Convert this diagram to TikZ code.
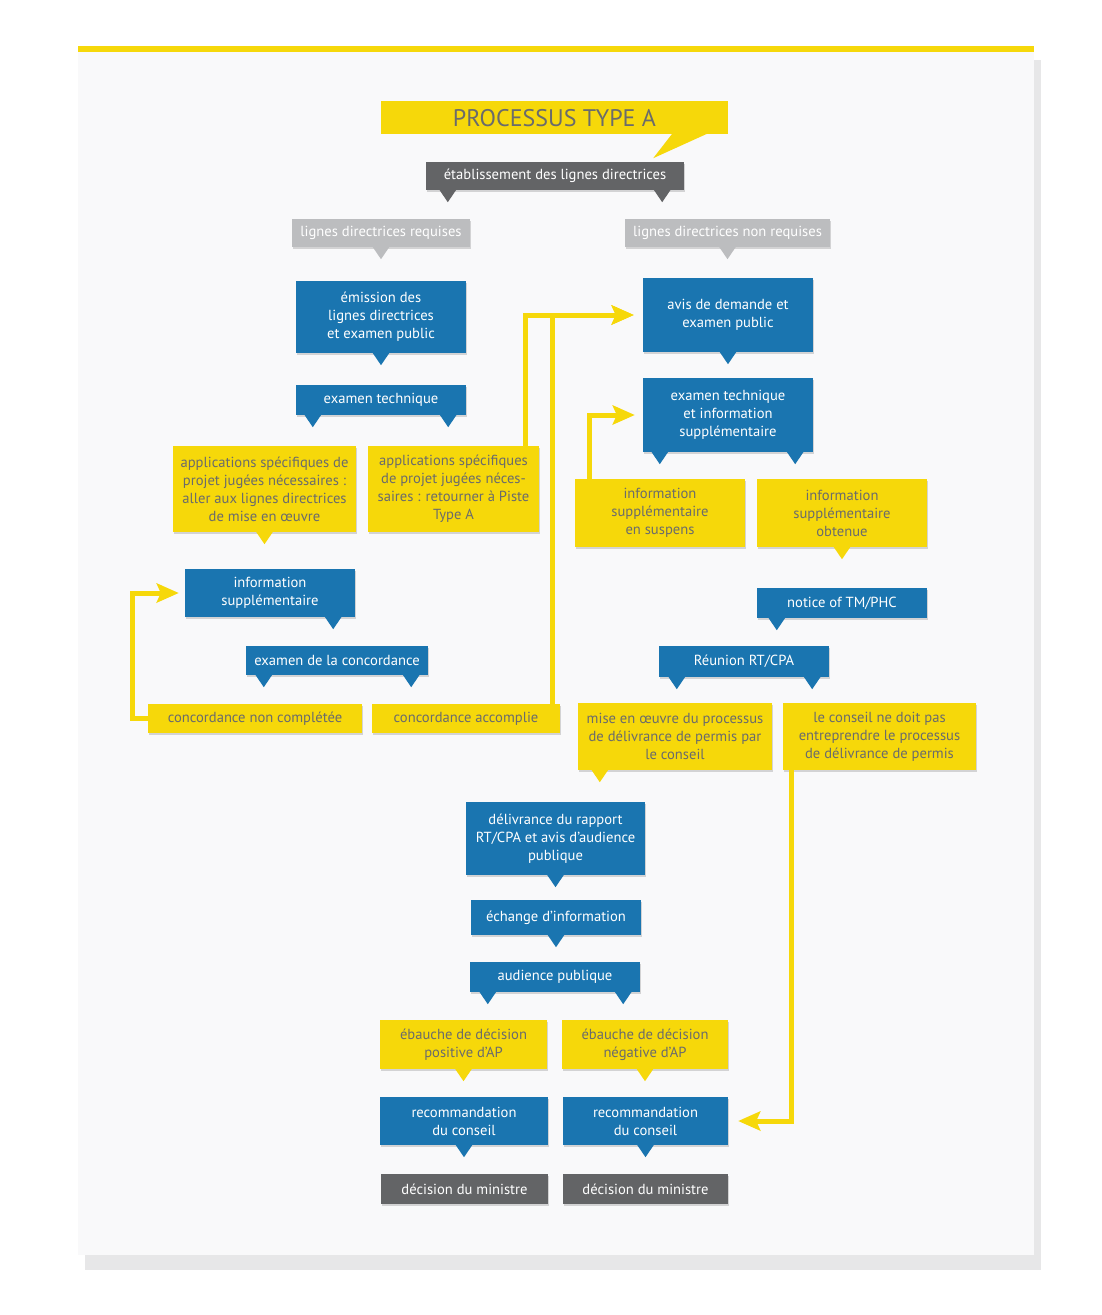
\documentclass[tikz,border=0pt]{standalone}
\usepackage{fontspec}
\setmainfont{PT Sans}
\usetikzlibrary{positioning, arrows.meta, calc, shadows}
\definecolor{boxblue}{HTML}{1A75B0}
\definecolor{boxyellow}{HTML}{F6D80A}
\definecolor{boxdark}{HTML}{636466}
\definecolor{boxlight}{HTML}{BCBDBF}
\definecolor{textgray}{HTML}{6A6B6C}
\definecolor{panelbg}{HTML}{F9F9FA}
\definecolor{panelshade}{HTML}{E7E7E8}

\newcommand{\tail}[3]{\fill[#1] ($(#2)+(#3,-0.5)+(-8.5,0)$) -- ++(17,0) -- ++(-8.5,12.5) -- cycle;}

\begin{document}
\begin{tikzpicture}[x=1pt, y=-1pt,
      every node/.style={font=\fontsize{14.6}{18}\selectfont, align=center, inner sep=0pt},
      dims/.style 2 args={minimum width=#1, minimum height=#2},
      shade/.style={drop shadow={shadow xshift=0.5pt, shadow yshift=-2pt, opacity=.15, fill=black}},
      bluebox/.style={fill=boxblue, text=white, shade},
      yelbox/.style={fill=boxyellow, text=textgray, shade},
      darkbox/.style={fill=boxdark, text=white, shade},
      lightbox/.style={fill=boxlight, text=white, shade},
      yarrow/.style={draw=boxyellow, line width=5pt, -{Stealth[length=22pt, width=19pt, inset=4pt]}}]
    \useasboundingbox (0,0) rectangle (1101,1315);
    \fill[panelshade] (85,60) rectangle (1041,1270);
    \fill[panelbg] (78,52) rectangle (1034,1255);
    \fill[boxyellow] (78,46) rectangle (1034,52);

    \node[fill=boxyellow, text=textgray, dims={347}{33}, font=\fontsize{24}{28}\selectfont] (title) at (554.5,117.5) {\raisebox{-9pt}[0pt][0pt]{PROCESSUS TYPE A}};
    \fill[boxyellow] ($(title.south east)+(-56,-0.5)$) -- ($(title.south east)+(-75,24)$) -- ($(title.south east)+(-21,-0.5)$) -- cycle;

    \node[darkbox, dims={258}{28}] (est) at (555,176) {établissement des lignes directrices};
    \node[lightbox, dims={178}{28}] (req) at (381,233) {lignes directrices requises};
    \node[lightbox, dims={205}{28}] (nonreq) at (727.5,233) {lignes directrices non requises};

    \node[bluebox, dims={170}{72}] (emis) at (381,317) {émission des\\lignes directrices\\et examen public};
    \node[bluebox, dims={170}{30}] (exam) at (381,400) {examen technique};
    \node[yelbox, dims={183}{86}] (app1) at (264.5,489) {applications spécifiques de\\projet jugées nécessaires :\\aller aux lignes directrices\\de mise en œuvre};
    \node[yelbox, dims={171}{86}] (app2) at (453.5,489) {applications spécifiques\\de projet jugées néces-\\saires : retourner à Piste\\Type A};
    \node[bluebox, dims={170}{48}] (info) at (270,593) {information\\supplémentaire};
    \node[bluebox, dims={182}{29}] (conc) at (337,660.5) {examen de la concordance};
    \node[yelbox, dims={214}{29}] (nonc) at (255,718.5) {concordance non complétée};
    \node[yelbox, dims={188}{29}] (acc) at (466,718.5) {concordance accomplie};

    \node[bluebox, dims={170}{74}] (avis) at (728,315) {avis de demande et\\examen public};
    \node[bluebox, dims={170}{74}] (exti) at (728,415) {examen technique\\et information\\supplémentaire};
    \node[yelbox, dims={170}{68}] (susp) at (660,513) {information\\supplémentaire\\en suspens};
    \node[yelbox, dims={170}{68}] (obt) at (842,513) {information\\supplémentaire\\obtenue};
    \node[bluebox, dims={170}{30}] (notice) at (842,603) {notice of TM/PHC};
    \node[bluebox, dims={170}{31}] (reun) at (744,661.5) {Réunion RT/CPA};
    \node[yelbox, dims={194}{67}] (mise) at (675,736.5) {mise en œuvre du processus\\de délivrance de permis par\\le conseil};
    \node[yelbox, dims={193}{67}] (pas) at (879.5,736.5) {le conseil ne doit pas\\entreprendre le processus\\de délivrance de permis};

    \node[bluebox, dims={179}{73}] (deliv) at (555.5,838.5) {délivrance du rapport\\RT/CPA et avis d’audience\\publique};
    \node[bluebox, dims={170}{35}] (ech) at (556,917.5) {échange d’information};
    \node[bluebox, dims={170}{30}] (aud) at (555,977) {audience publique};
    \node[yelbox, dims={167}{49}] (pos) at (463.5,1044.5) {ébauche de décision\\positive d’AP};
    \node[yelbox, dims={166}{49}] (neg) at (645,1044.5) {ébauche de décision\\négative d’AP};
    \node[bluebox, dims={168}{48}] (rec1) at (464,1121) {recommandation\\du conseil};
    \node[bluebox, dims={165}{48}] (rec2) at (645.5,1121) {recommandation\\du conseil};
    \node[darkbox, dims={167}{30}] (min1) at (464.5,1189) {décision du ministre};
    \node[darkbox, dims={165}{30}] (min2) at (645.5,1189) {décision du ministre};

    \tail{boxdark}{est.south west}{22}
    \tail{boxdark}{est.south east}{-22}
    \tail{boxlight}{req.south}{0}
    \tail{boxlight}{nonreq.south}{0}
    \tail{boxblue}{emis.south}{0}
    \tail{boxblue}{exam.south west}{17}
    \tail{boxblue}{exam.south east}{-18}
    \tail{boxyellow}{app1.south}{0}
    \tail{boxblue}{info.south east}{-22}
    \tail{boxblue}{conc.south west}{18}
    \tail{boxblue}{conc.south east}{-17}
    \tail{boxblue}{avis.south}{0}
    \tail{boxblue}{exti.south west}{17}
    \tail{boxblue}{exti.south east}{-18}
    \tail{boxyellow}{obt.south}{0}
    \tail{boxblue}{notice.south west}{20}
    \tail{boxblue}{reun.south west}{18}
    \tail{boxblue}{reun.south east}{-17}
    \tail{boxyellow}{mise.south west}{22}
    \tail{boxblue}{deliv.south}{0}
    \tail{boxblue}{ech.south}{0}
    \tail{boxblue}{aud.south west}{18}
    \tail{boxblue}{aud.south east}{-17}
    \tail{boxyellow}{pos.south}{0}
    \tail{boxyellow}{neg.south}{0}
    \tail{boxblue}{rec1.south}{0}
    \tail{boxblue}{rec2.south}{0}

    \draw[yarrow] ([xshift=-14pt]app2.north east) |- ([xshift=-9pt]avis.west);
    \draw[yarrow] ([xshift=-8pt]acc.north east) |- ([xshift=-9pt]avis.west);
    \draw[yarrow] ([xshift=15pt]susp.north west) |- ([xshift=-8pt]exti.west);
    \draw[yarrow] (nonc.west) -- ++(-15,0) |- ([xshift=-6pt]info.west);
    \draw[yarrow] ([xshift=9pt]pas.south west) |- ([xshift=10pt]rec2.east);
  \end{tikzpicture}
\end{document}
